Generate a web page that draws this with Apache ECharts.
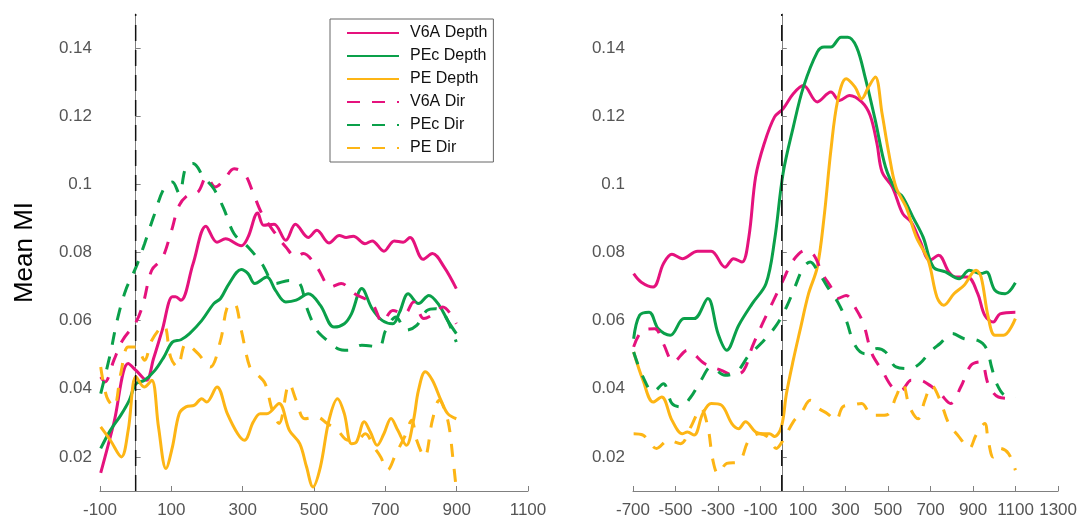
<!DOCTYPE html>
<html>
<head>
<meta charset="utf-8">
<script src="https://cdn.jsdelivr.net/npm/echarts@6/dist/echarts.min.js"></script>
<style>html,body{margin:0;padding:0;background:#fff}#c{width:1080px;height:522px}</style>
</head>
<body>
<div id="c"></div>
<script>
// ---------- DATA ----------
const seriesNames = ['V6A Depth', 'PEc Depth', 'PE Depth', 'V6A Dir', 'PEc Dir', 'PE Dir'];
const yTicks = [0.02, 0.04, 0.06, 0.08, 0.10, 0.12, 0.14];
const xTicksLeft = [-100, 100, 300, 500, 700, 900, 1100];
const xTicksRight = [-700, -500, -300, -100, 100, 300, 500, 700, 900, 1100, 1300];
const eventLine = [[0, 0.01], [0, 0.15]];

// Left panel (time, mean MI)
const leftV6ADepth = [[-98,0.0153],[-61,0.030],[-21,0.0474],[1,0.0454],[30,0.0425],[50,0.0488],[74,0.057],[103,0.067],[112,0.067],[127,0.066],[161,0.0767],[197,0.0877],[228,0.083],[252,0.084],[296,0.082],[315,0.0845],[342,0.0916],[359,0.088],[388,0.0883],[421,0.0836],[448,0.0883],[484,0.0844],[508,0.0865],[542,0.0828],[571,0.085],[590,0.0844],[610,0.0848],[643,0.0826],[663,0.0834],[696,0.0804],[725,0.0834],[750,0.083],[769,0.0844],[806,0.078],[832,0.0797],[865,0.0757],[899,0.0694]];
const leftPEcDepth = [[-98,0.0225],[-71,0.0278],[-42,0.0322],[-18,0.0366],[1,0.0415],[25,0.0425],[54,0.0454],[79,0.0493],[103,0.0537],[127,0.0544],[151,0.0562],[185,0.060],[219,0.065],[238,0.0665],[262,0.0709],[296,0.075],[315,0.0738],[334,0.0709],[368,0.0728],[392,0.0689],[421,0.0655],[450,0.066],[484,0.0679],[518,0.0645],[556,0.0581],[585,0.0591],[605,0.062],[634,0.0694],[663,0.0635],[692,0.060],[721,0.0591],[740,0.0625],[764,0.0679],[793,0.065],[822,0.0674],[851,0.0645],[875,0.060],[899,0.0562]];
const leftPEDepth = [[-98,0.0288],[-71,0.0249],[-40,0.020],[-21,0.0278],[1,0.0435],[24,0.0405],[45,0.0425],[64,0.0288],[85,0.0166],[103,0.0229],[122,0.0327],[141,0.0347],[165,0.0352],[185,0.0371],[199,0.0361],[228,0.0405],[257,0.0327],[286,0.0268],[305,0.0249],[330,0.0303],[349,0.0327],[368,0.0327],[402,0.0357],[431,0.0278],[460,0.0239],[479,0.0171],[497,0.0112],[518,0.0171],[542,0.0308],[566,0.0371],[585,0.0327],[605,0.0239],[619,0.0244],[641,0.0303],[658,0.0273],[677,0.0234],[696,0.0268],[716,0.0313],[735,0.0278],[759,0.0234],[779,0.0308],[793,0.0396],[812,0.045],[832,0.0425],[856,0.0366],[875,0.0327],[899,0.0312]];
const leftV6ADir = [[-98,0.0435],[-86,0.042],[-61,0.0484],[-37,0.0542],[1,0.0596],[21,0.065],[45,0.0748],[74,0.0782],[98,0.0855],[122,0.0938],[146,0.0968],[175,0.0978],[199,0.1022],[223,0.0992],[247,0.1012],[276,0.1046],[305,0.1031],[330,0.0973],[354,0.0914],[392,0.0855],[421,0.0816],[450,0.0787],[470,0.0797],[508,0.0757],[547,0.0699],[576,0.0709],[614,0.0679],[663,0.065],[692,0.0596],[721,0.063],[754,0.062],[779,0.0655],[808,0.0606],[837,0.062],[861,0.064],[899,0.0591]];
const leftPEcDir = [[-98,0.0386],[-71,0.0503],[-52,0.060],[-28,0.0689],[1,0.0757],[25,0.0826],[50,0.0904],[79,0.0987],[103,0.1007],[122,0.0973],[141,0.1051],[161,0.1061],[190,0.1022],[219,0.0987],[247,0.0929],[276,0.0855],[315,0.0816],[354,0.0767],[392,0.0709],[431,0.0718],[460,0.0709],[479,0.064],[508,0.0572],[537,0.0542],[566,0.0518],[595,0.0513],[634,0.0528],[682,0.0523],[701,0.0572],[730,0.0611],[759,0.0572],[788,0.0586],[817,0.063],[841,0.0635],[865,0.062],[899,0.0537]];
const leftPEDir = [[-98,0.0464],[-81,0.0376],[-61,0.0347],[-42,0.0444],[-21,0.0523],[1,0.0523],[25,0.0484],[45,0.0542],[79,0.0586],[98,0.0493],[117,0.0464],[141,0.0532],[175,0.0503],[209,0.0464],[238,0.0542],[257,0.064],[276,0.065],[296,0.0572],[320,0.0464],[339,0.0444],[363,0.0415],[383,0.0337],[402,0.0298],[431,0.0415],[450,0.0366],[474,0.0312],[508,0.0317],[537,0.0298],[566,0.0278],[595,0.0249],[619,0.0249],[644,0.0268],[668,0.0229],[687,0.020],[706,0.0161],[730,0.021],[754,0.0259],[774,0.0308],[788,0.0249],[810,0.020],[832,0.0308],[851,0.0366],[875,0.0308],[890,0.0191],[899,0.0103]];

// Right panel
const rightV6ADepth = [[-697,0.0738],[-661,0.0713],[-605,0.0699],[-557,0.0767],[-517,0.0795],[-468,0.0782],[-396,0.0804],[-332,0.0804],[-267,0.0757],[-227,0.0782],[-187,0.0772],[-155,0.0845],[-123,0.1022],[-83,0.1119],[-34,0.1198],[6,0.1222],[54,0.1266],[102,0.1290],[167,0.1242],[231,0.1271],[271,0.1246],[319,0.1261],[376,0.1242],[416,0.1202],[448,0.1119],[472,0.1036],[520,0.0992],[569,0.0914],[609,0.0889],[649,0.0836],[697,0.0777],[738,0.0792],[786,0.0743],[818,0.0728],[874,0.0728],[922,0.0679],[955,0.0616],[995,0.0596],[1027,0.062],[1099,0.0625]];
const rightPEcDepth = [[-697,0.0547],[-669,0.0616],[-624,0.0625],[-581,0.0576],[-525,0.0557],[-460,0.0606],[-412,0.0606],[-348,0.0665],[-300,0.0562],[-259,0.0513],[-203,0.0586],[-139,0.065],[-74,0.0709],[-34,0.0836],[6,0.1032],[54,0.1168],[102,0.1286],[167,0.1388],[199,0.1403],[231,0.1403],[279,0.1432],[311,0.1432],[352,0.1403],[392,0.1315],[440,0.1188],[488,0.1051],[537,0.0982],[569,0.0963],[617,0.0904],[665,0.0845],[713,0.0757],[770,0.0743],[834,0.0723],[882,0.0748],[938,0.0738],[963,0.0743],[1003,0.0689],[1051,0.0679],[1099,0.0711]];
const rightPEDepth = [[-697,0.0508],[-653,0.0425],[-605,0.0361],[-565,0.0376],[-517,0.0308],[-468,0.0268],[-444,0.0273],[-412,0.0264],[-372,0.0327],[-332,0.0357],[-284,0.0352],[-235,0.0298],[-203,0.0283],[-171,0.0303],[-123,0.0273],[-91,0.0268],[-58,0.0268],[-34,0.026],[-2,0.0288],[22,0.0386],[54,0.0484],[86,0.0572],[126,0.0679],[167,0.0757],[199,0.0904],[231,0.110],[263,0.1246],[303,0.131],[344,0.1286],[376,0.1251],[408,0.1286],[440,0.1315],[472,0.1207],[504,0.109],[537,0.0992],[585,0.0933],[633,0.0845],[689,0.0777],[730,0.0669],[762,0.0645],[810,0.0679],[858,0.0704],[914,0.0748],[938,0.0728],[971,0.0611],[1003,0.0557],[1043,0.0557],[1099,0.0606]];
const rightV6ADir = [[-697,0.0523],[-653,0.0572],[-597,0.0576],[-557,0.0532],[-509,0.0479],[-444,0.0513],[-364,0.0474],[-284,0.0454],[-227,0.044],[-179,0.0454],[-139,0.0523],[-91,0.0591],[-42,0.0655],[6,0.0718],[54,0.0777],[110,0.0806],[151,0.0792],[191,0.0738],[231,0.0699],[263,0.0665],[303,0.0674],[344,0.064],[384,0.0591],[424,0.0503],[472,0.0454],[520,0.0405],[561,0.0396],[609,0.0425],[649,0.0425],[697,0.041],[745,0.0386],[794,0.0357],[842,0.0405],[890,0.0469],[938,0.0479],[971,0.0415],[1019,0.0376],[1099,0.0371]];
const rightPEcDir = [[-697,0.0508],[-653,0.0435],[-605,0.0391],[-557,0.0415],[-517,0.0357],[-476,0.0347],[-428,0.0376],[-380,0.0425],[-332,0.0464],[-267,0.044],[-211,0.045],[-155,0.0498],[-91,0.0537],[-26,0.0586],[22,0.064],[62,0.0699],[102,0.0757],[134,0.0772],[167,0.0748],[215,0.0699],[263,0.0655],[303,0.0601],[344,0.0528],[392,0.0503],[448,0.0518],[488,0.0508],[537,0.0464],[601,0.0459],[649,0.0474],[697,0.0508],[745,0.0533],[802,0.0562],[858,0.0547],[922,0.0542],[963,0.0518],[987,0.0464],[1011,0.0415],[1051,0.038],[1099,0.0376]];
const rightPEDir = [[-697,0.0268],[-653,0.0264],[-589,0.0225],[-533,0.0249],[-476,0.0239],[-428,0.0288],[-380,0.0342],[-348,0.0288],[-324,0.0190],[-300,0.0151],[-259,0.0181],[-203,0.0185],[-155,0.0249],[-107,0.0268],[-66,0.0259],[-26,0.0225],[6,0.0249],[54,0.0303],[94,0.0332],[134,0.0366],[175,0.0342],[215,0.0327],[255,0.0308],[287,0.0347],[327,0.0352],[376,0.0357],[424,0.0322],[472,0.0322],[504,0.0327],[537,0.0376],[569,0.0415],[601,0.0347],[641,0.0312],[673,0.0366],[705,0.041],[745,0.0366],[786,0.0298],[834,0.0259],[882,0.0225],[914,0.0264],[955,0.0298],[971,0.0249],[995,0.020],[1027,0.0225],[1067,0.021],[1099,0.0161]];

const leftData = [leftV6ADepth, leftPEcDepth, leftPEDepth, leftV6ADir, leftPEcDir, leftPEDir];
const rightData = [rightV6ADepth, rightPEcDepth, rightPEDepth, rightV6ADir, rightPEcDir, rightPEDir];

// ---------- STYLE ----------
const colors = ['#e5127d', '#0aa04a', '#fdb515', '#e5127d', '#0aa04a', '#fdb515'];
const dashed = [false, false, false, true, true, true];
const FONT = "'Liberation Sans', Arial, sans-serif";
const axisGray = '#808080';
const fmtY = v => String(+(+v).toFixed(2));
const fmtX = v => String(Math.round(v));

function xAxisFor(gi, min, max, ticks) {
  return {
    type: 'value', gridIndex: gi, min: min, max: max,
    splitLine: { show: false },
    axisLine: { show: true, onZero: false, lineStyle: { color: axisGray, width: 1 } },
    axisTick: { show: true, inside: true, length: 5, lineStyle: { color: axisGray }, customValues: ticks },
    axisLabel: { color: '#555', fontSize: 17, fontFamily: FONT, margin: 11, customValues: ticks, formatter: fmtX, showMinLabel: true, showMaxLabel: true }
  };
}
function yAxisFor(gi, withName) {
  const a = {
    type: 'value', gridIndex: gi, min: 0.01, max: 0.15,
    splitLine: { show: false },
    axisLine: { show: true, lineStyle: { color: axisGray, width: 1 } },
    axisTick: { show: true, inside: true, length: 5, lineStyle: { color: axisGray }, customValues: yTicks },
    axisLabel: { color: '#555', fontSize: 17, fontFamily: FONT, margin: 8, customValues: yTicks, formatter: fmtY }
  };
  if (withName) {
    Object.assign(a, {
      name: 'Mean MI', nameLocation: 'middle', nameRotate: 90, nameGap: 62,
      nameTextStyle: { color: '#000', fontSize: 26, fontFamily: FONT }
    });
  }
  return a;
}

const series = [];
function addPanel(dataList, gi) {
  dataList.forEach((d, i) => {
    series.push({
      name: seriesNames[i], type: 'line', xAxisIndex: gi, yAxisIndex: gi,
      data: d, smooth: 0.35, symbol: 'none', showSymbol: false, silent: true,
      color: colors[i],
      lineStyle: { color: colors[i], width: 3, type: dashed[i] ? [13, 12] : 'solid', cap: 'butt' },
      z: 3
    });
  });
  series.push({
    name: 'event', type: 'line', xAxisIndex: gi, yAxisIndex: gi, data: eventLine,
    symbol: 'none', silent: true, lineStyle: { color: '#111', width: 1.5, type: [16, 9] }, z: 5
  });
}
addPanel(leftData, 0);
addPanel(rightData, 1);

const chart = echarts.init(document.getElementById('c'), null, { renderer: 'canvas' });
chart.setOption({
  animation: false,
  backgroundColor: '#fff',
  grid: [
    { left: 100, top: 14, width: 428, height: 477 },
    { left: 633, top: 14, width: 429, height: 477 }
  ],
  xAxis: [xAxisFor(0, -100, 1100, xTicksLeft), xAxisFor(1, -700, 1300, xTicksRight)],
  yAxis: [yAxisFor(0, true), yAxisFor(1, false)],
  legend: {
    data: seriesNames, orient: 'vertical', left: 330, top: 19,
    backgroundColor: '#fff', borderColor: '#666', borderWidth: 1,
    padding: [6, 6, 6, 16], itemWidth: 52, itemHeight: 14, itemGap: 7,
    itemStyle: { opacity: 0 },
    textStyle: { color: '#111', fontSize: 16, lineHeight: 14, fontFamily: FONT, padding: [0, 0, 0, 6] },
    selectedMode: false
  },
  series: series
});
</script>
</body>
</html>
